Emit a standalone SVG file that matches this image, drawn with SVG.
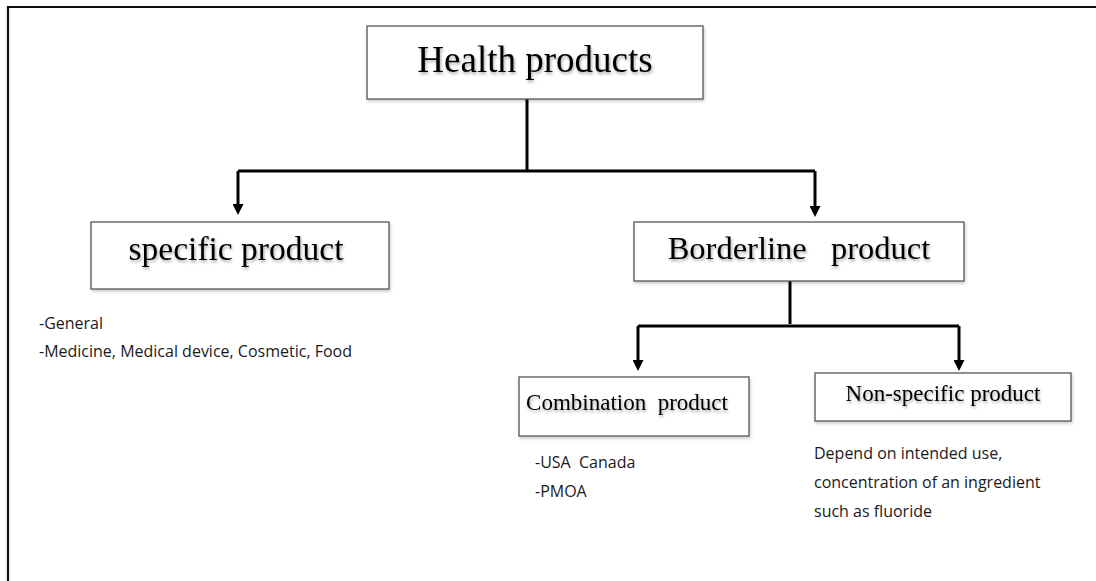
<svg xmlns="http://www.w3.org/2000/svg" width="1096" height="581" viewBox="0 0 1096 581">
<style>
.box{fill:#fff;stroke:#555;stroke-width:1.3;filter:url(#bs)}
.t{font-family:"Liberation Serif","Times New Roman",serif;fill:#000;text-anchor:middle;white-space:pre;filter:url(#ts)}
.n{font-family:"Open Sans","Noto Sans",sans-serif;font-size:16px;fill:#1a1a1a;white-space:pre}
.c{fill:none;stroke:#000;stroke-width:3;stroke-linejoin:miter}
</style>
<defs>
<filter id="ts" x="-10%" y="-30%" width="120%" height="160%">
<feDropShadow dx="1" dy="2" stdDeviation="1.5" flood-color="#000" flood-opacity="0.35"/>
</filter>
<filter id="bs" x="-5%" y="-10%" width="110%" height="130%">
<feDropShadow dx="1" dy="2" stdDeviation="1.5" flood-color="#000" flood-opacity="0.2"/>
</filter>
<marker id="ah" markerUnits="userSpaceOnUse" markerWidth="12" markerHeight="11" refX="1" refY="5.5" orient="auto" viewBox="0 0 12 11">
<path d="M0,0 L11,5.5 L0,11 Z" fill="#000"/>
</marker>
</defs>
<rect width="1096" height="581" fill="#fff"/>
<path d="M8,582 V7 H1097" fill="none" stroke="#111" stroke-width="2.2"/>

<g id="connectors">
<path class="c" d="M527,99 V171"/>
<path class="c" d="M238,171 H815"/>
<path class="c" d="M238,171 V205" marker-end="url(#ah)"/>
<path class="c" d="M815,171 V207" marker-end="url(#ah)"/>
<path class="c" d="M790,281 V324"/>
<path class="c" d="M638,326 H959"/>
<path class="c" d="M638,326 V361" marker-end="url(#ah)"/>
<path class="c" d="M959,326 V361" marker-end="url(#ah)"/>
</g>

<g id="health">
<rect class="box" x="367" y="26" width="336" height="73"/>
<text class="t" x="535" y="72" font-size="37">Health products</text>
</g>

<g id="specific">
<rect class="box" x="91" y="222" width="298" height="67"/>
<text class="t" x="236" y="260" font-size="33.5">specific product</text>
</g>

<g id="borderline">
<rect class="box" x="634" y="222" width="330" height="59"/>
<text class="t" x="799" y="259" font-size="32.5">Borderline   product</text>
</g>

<g id="combination">
<rect class="box" x="519" y="377" width="230" height="59"/>
<text class="t" x="627" y="410" font-size="23">Combination  product</text>
</g>

<g id="nonspecific">
<rect class="box" x="815" y="373" width="256" height="48"/>
<text class="t" x="943" y="401" font-size="23">Non-specific product</text>
</g>

<g id="notes">
<text class="n" x="39" y="329">-General</text>
<text class="n" x="39" y="357">-Medicine, Medical device, Cosmetic, Food</text>
<text class="n" x="535" y="468">-USA  Canada</text>
<text class="n" x="535" y="497">-PMOA</text>
<text class="n" x="814" y="459">Depend on intended use,</text>
<text class="n" x="814" y="488">concentration of an ingredient</text>
<text class="n" x="814" y="517">such as fluoride</text>
</g>
</svg>
